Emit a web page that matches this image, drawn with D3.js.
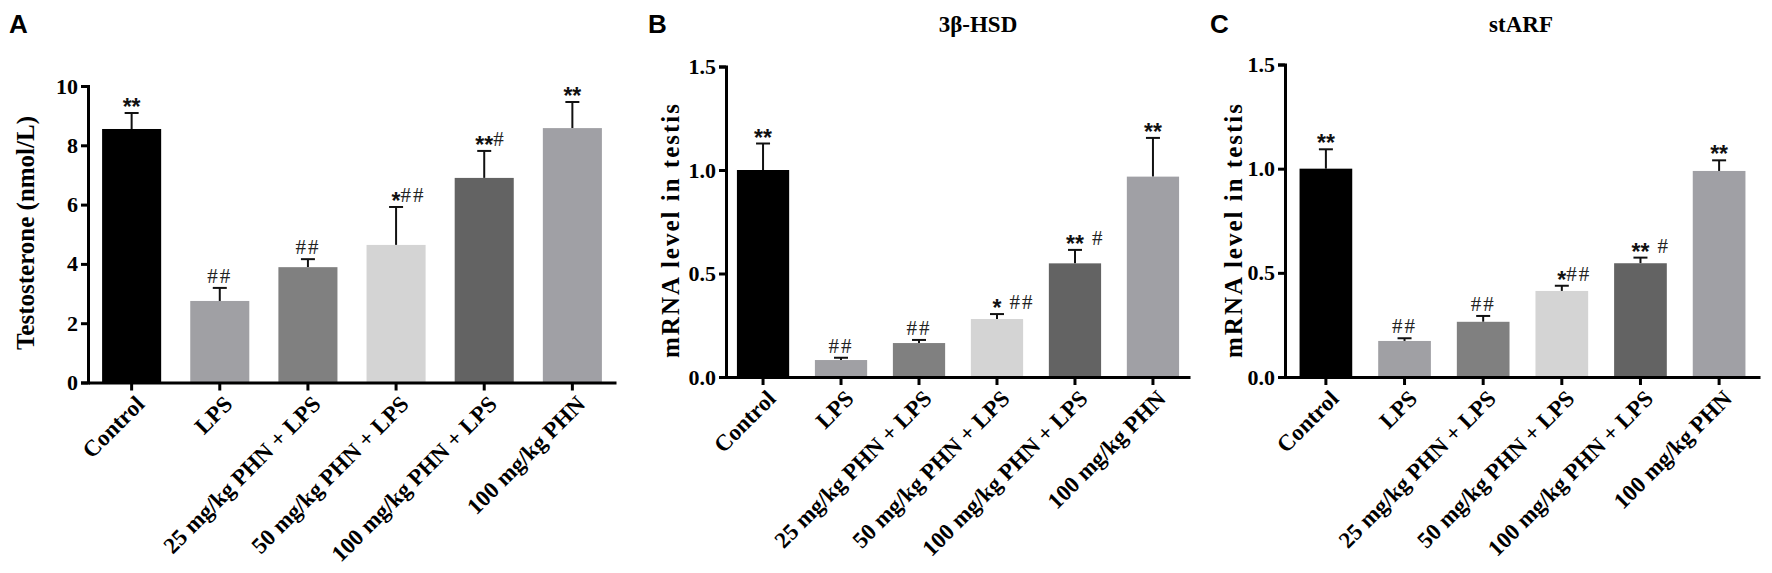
<!DOCTYPE html>
<html lang="en">
<head>
<meta charset="utf-8">
<title>Testosterone and steroidogenic mRNA</title>
<script src="https://d3js.org/d3.v7.min.js"></script>
<style>
  body { margin: 0; background: #fff; }
  svg { display: block; }
  .tick text { font-family: "Liberation Serif", "Times New Roman", serif; font-weight: bold; }
</style>
</head>
<body>
<div id="chart"></div>
<script>
// groups shared by all three panels
const groups = ["Control", "LPS", "25 mg/kg PHN + LPS", "50 mg/kg PHN + LPS", "100 mg/kg PHN + LPS", "100 mg/kg PHN"];

// A - serum testosterone (nmol/L), mean and SEM
const testoMean = [8.55, 2.75, 3.89, 4.64, 6.90, 8.58];
const testoErr  = [0.54, 0.44, 0.27, 1.28, 0.91, 0.88];
const testoMarks = ["**", "##", "##", "*##", "**#", "**"];
const testoTicks = [0, 2, 4, 6, 8, 10];

// B - 3β-HSD mRNA
const hsdMean = [1.00, 0.082, 0.164, 0.280, 0.549, 0.968];
const hsdErr  = [0.128, 0.011, 0.015, 0.024, 0.065, 0.187];
const hsdMarks = ["**", "##", "##", "* ##", "** #", "**"];

// C - stARF mRNA
const starfMean = [1.00, 0.173, 0.265, 0.413, 0.546, 0.989];
const starfErr  = [0.093, 0.013, 0.028, 0.025, 0.027, 0.051];
const starfMarks = ["**", "##", "##", "*##", "** #", "**"];

const mrnaTicks = [0, 0.5, 1.0, 1.5];

const barColors = ["#000000", "#a0a0a4", "#808080", "#d4d4d4", "#636363", "#a0a0a5"];

const serif = "'Liberation Serif', 'Times New Roman', serif";
const sans = "'Liberation Sans', Arial, sans-serif";

const svg = d3.select("#chart").append("svg")
    .attr("width", 1772)
    .attr("height", 573);

function panel(opt) {
  const g = svg.append("g");

  const x = d3.scaleBand()
    .domain(groups)
    .range([opt.x0, opt.x1])
    .paddingInner(0.33)
    .paddingOuter(opt.po);

  const y = d3.scaleLinear()
    .domain([0, opt.max])
    .range([opt.yBase, opt.yTop]);

  // bars
  const bars = g.append("g");
  groups.forEach(function(d, i) {
    const cx = x(d) + x.bandwidth() / 2;
    const top = y(opt.mean[i] + opt.err[i]);
    // error bar (upper half only, like the original)
    bars.append("line")
      .attr("x1", cx).attr("x2", cx)
      .attr("y1", y(opt.mean[i])).attr("y2", top)
      .attr("stroke", "#111").attr("stroke-width", 2);
    bars.append("line")
      .attr("x1", cx - 7).attr("x2", cx + 7)
      .attr("y1", top).attr("y2", top)
      .attr("stroke", "#111").attr("stroke-width", 2);
    bars.append("rect")
      .attr("x", x(d))
      .attr("y", y(opt.mean[i]))
      .attr("width", x.bandwidth())
      .attr("height", y(0) - y(opt.mean[i]))
      .attr("fill", barColors[i]);

    // significance marks: stars centred on the bar, hashes to the right
    const m = opt.marks[i];
    const stars = (m.match(/^\*+/) || [""])[0];
    const rest = m.slice(stars.length);
    const hashes = rest.trim();
    const spaces = rest.length - hashes.length;
    let starW = 0;
    if (stars) {
      const st = bars.append("text")
        .attr("x", cx).attr("y", top + 2)
        .attr("text-anchor", "middle")
        .style("font-family", sans).style("font-weight", "bold")
        .style("font-size", "23px").attr("fill", "#111")
        .text(stars);
      starW = st.node().getComputedTextLength();
    }
    if (hashes) {
      bars.append("text")
        .attr("x", stars ? cx + starW / 2 + spaces * 8 : cx)
        .attr("y", top - 5)
        .attr("text-anchor", stars ? "start" : "middle")
        .style("font-family", serif)
        .style("font-size", "21px")
        .style("letter-spacing", "2px")
        .attr("fill", "#222")
        .text(hashes);
    }
  });

  // axes
  const yAxis = g.append("g")
    .attr("transform", `translate(${opt.x0},0)`)
    .call(d3.axisLeft(y).tickValues(opt.ticks).tickFormat(opt.fmt).tickSize(7).tickPadding(3));
  yAxis.selectAll("text").style("font-size", "22px").attr("fill", "#000");

  const xAxis = g.append("g")
    .attr("transform", `translate(0,${opt.yBase})`)
    .call(d3.axisBottom(x).tickSize(8).tickSizeOuter(0).tickPadding(2));
  xAxis.selectAll("text")
    .style("font-size", "23px")
    .attr("fill", "#000")
    .attr("text-anchor", "end")
    .attr("dy", null)
    .attr("transform", "translate(7,16) rotate(-45)");

  g.selectAll(".domain").attr("stroke", "#000").attr("stroke-width", 3);
  g.selectAll(".tick line").attr("stroke", "#000").attr("stroke-width", 3);

  // y axis title
  g.append("text")
    .attr("transform", `translate(${opt.titleX},${opt.titleY}) rotate(-90)`)
    .attr("text-anchor", "middle")
    .attr("dominant-baseline", "central")
    .style("font-family", serif).style("font-weight", "bold")
    .style("font-size", "25px")
    .style("letter-spacing", opt.ls)
    .text(opt.yLabel);

  // panel letter
  svg.append("text")
    .attr("x", opt.letterX).attr("y", 33)
    .style("font-family", sans).style("font-weight", "bold")
    .style("font-size", "26px")
    .text(opt.letter);

  if (opt.title) {
    svg.append("text")
      .attr("x", opt.titleCx).attr("y", 32)
      .attr("text-anchor", "middle")
      .style("font-family", serif).style("font-weight", "bold")
      .style("font-size", "23px")
      .text(opt.title);
  }
}

panel({
  letter: "A", letterX: 9,
  x0: 88, x1: 616, po: 0.16,
  yBase: 382.5, yTop: 86, max: 10,
  ticks: testoTicks, fmt: d3.format("d"),
  mean: testoMean, err: testoErr, marks: testoMarks,
  yLabel: "Testosterone (nmol/L)", titleX: 25, titleY: 233, ls: "0px"
});

panel({
  letter: "B", letterX: 648,
  x0: 726, x1: 1190, po: 0.14,
  yBase: 377, yTop: 66.5, max: 1.5,
  ticks: mrnaTicks, fmt: d3.format(".1f"),
  mean: hsdMean, err: hsdErr, marks: hsdMarks,
  yLabel: "mRNA level in testis", titleX: 670, titleY: 230, ls: "2px",
  title: "3β-HSD", titleCx: 978
});

panel({
  letter: "C", letterX: 1210,
  x0: 1285, x1: 1760, po: 0.185,
  yBase: 377, yTop: 64.5, max: 1.5,
  ticks: mrnaTicks, fmt: d3.format(".1f"),
  mean: starfMean, err: starfErr, marks: starfMarks,
  yLabel: "mRNA level in testis", titleX: 1233, titleY: 230, ls: "2px",
  title: "stARF", titleCx: 1521
});
</script>
</body>
</html>
